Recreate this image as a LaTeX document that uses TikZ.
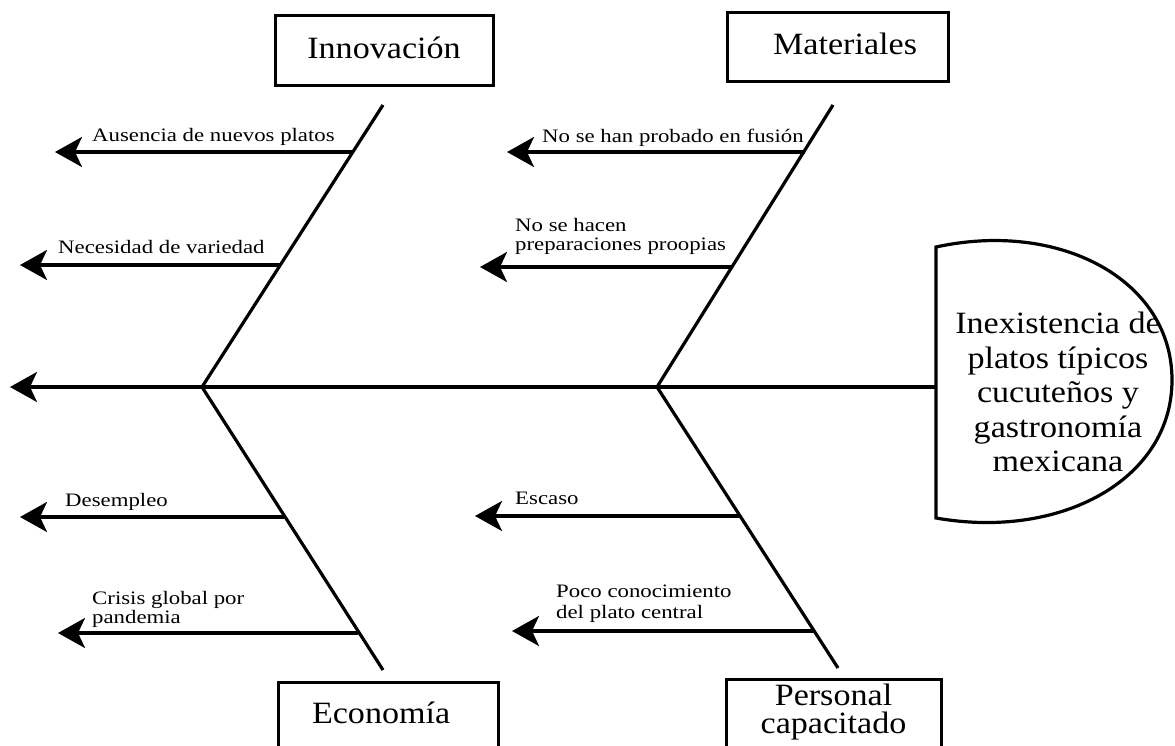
\documentclass[tikz,border=0pt]{standalone}
\usepackage{fontspec}
\setmainfont{Liberation Serif}
\newfontfamily\bigfont{Liberation Serif}[FakeStretch=1.1]
\newfontfamily\smallfont{Liberation Serif}[FakeStretch=1.2]
\usetikzlibrary{arrows.meta}

\begin{document}
\begin{tikzpicture}[x=1pt,y=-1pt]

\tikzstyle{catbox}=[draw,rectangle,line width=3pt,inner ysep=0pt,font=\bigfont\fontsize{31}{28}\selectfont]
\tikzstyle{bone}=[line width=3.2pt]
\tikzstyle{cause}=[line width=3.2pt,-{Stealth[length=27pt,width=30pt,inset=7pt]}]
\tikzset{lbl/.style={inner sep=0pt,align=left,anchor=base west,font=\smallfont\fontsize{19}{18.5}\selectfont}}

\useasboundingbox (0,0) rectangle (1175,746);
\clip (0,0) rectangle (1175,746);

\node[catbox,minimum width=218pt,inner xsep=0pt,text height=43pt,text depth=27pt] (inno) at (384,51) {Innovación};
\node[catbox,inner xsep=31pt,text width=159pt,align=flush right,text height=42pt,text depth=27pt] (mat) at (837.5,47.5) {Materiales};
\node[catbox,inner xsep=34pt,text width=152pt,align=flush left,text height=41pt,text depth=39pt] (eco) at (388,722) {Economía};
\node[catbox,minimum width=215pt,inner xsep=0pt,align=center,text height=54pt,text depth=29pt] (per) at (833.5,720.5) {Personal\\capacitado};

\node[align=center,inner sep=0pt,font=\bigfont\fontsize{31}{34.5}\selectfont] (effect) at (1058,392)
  {Inexistencia de\\platos típicos\\cucuteños y\\gastronomía\\mexicana};
\draw[bone] (936,247) .. controls (1060,220) and (1172,280) .. (1172,380)
  .. controls (1172,480) and (1060,540) .. (936,518) -- cycle;

\coordinate (headW) at (936,387);
\coordinate (spineTip) at (10,387);
\coordinate (jointL) at (202,387);
\coordinate (jointR) at (657,387);
\coordinate (innoTop) at (383,105);
\coordinate (ecoBot) at (383,670);
\coordinate (matTop) at (833,105);
\coordinate (perBot) at (838,668);

\draw[cause] (headW) -- (spineTip);
\draw[bone] (innoTop) -- (jointL) -- (ecoBot);
\draw[bone] (matTop) -- (jointR) -- (perBot);

\coordinate (c1) at (353,152);  \coordinate (t1) at (55,152);
\coordinate (c2) at (280,265);  \coordinate (t2) at (20,265);
\coordinate (c3) at (284,517);  \coordinate (t3) at (20,517);
\coordinate (c4) at (358,633);  \coordinate (t4) at (58,633);
\coordinate (c5) at (805,152);  \coordinate (t5) at (507,152);
\coordinate (c6) at (732,267);  \coordinate (t6) at (480,267);
\coordinate (c7) at (740,516);  \coordinate (t7) at (475,516);
\coordinate (c8) at (814,631);  \coordinate (t8) at (512,631);

\foreach \i in {1,...,8}
  \draw[cause] (c\i) -- (t\i);

\node[lbl] (l1) at (92,142) {Ausencia de nuevos platos};
\node[lbl] (l2) at (58,254) {Necesidad de variedad};
\node[lbl] (l3) at (65,506) {Desempleo};
\node[lbl] (l4) at (92,623) {Crisis global por\\pandemia};
\node[lbl] (l5) at (542,143) {No se han probado en fusión};
\node[lbl] (l6) at (515,250) {No se hacen\\preparaciones proopias};
\node[lbl] (l7) at (515,504) {Escaso};
\node[lbl] (l8) at (556,618) {Poco conocimiento\\[2.5pt]del plato central};

\end{tikzpicture}
\end{document}
